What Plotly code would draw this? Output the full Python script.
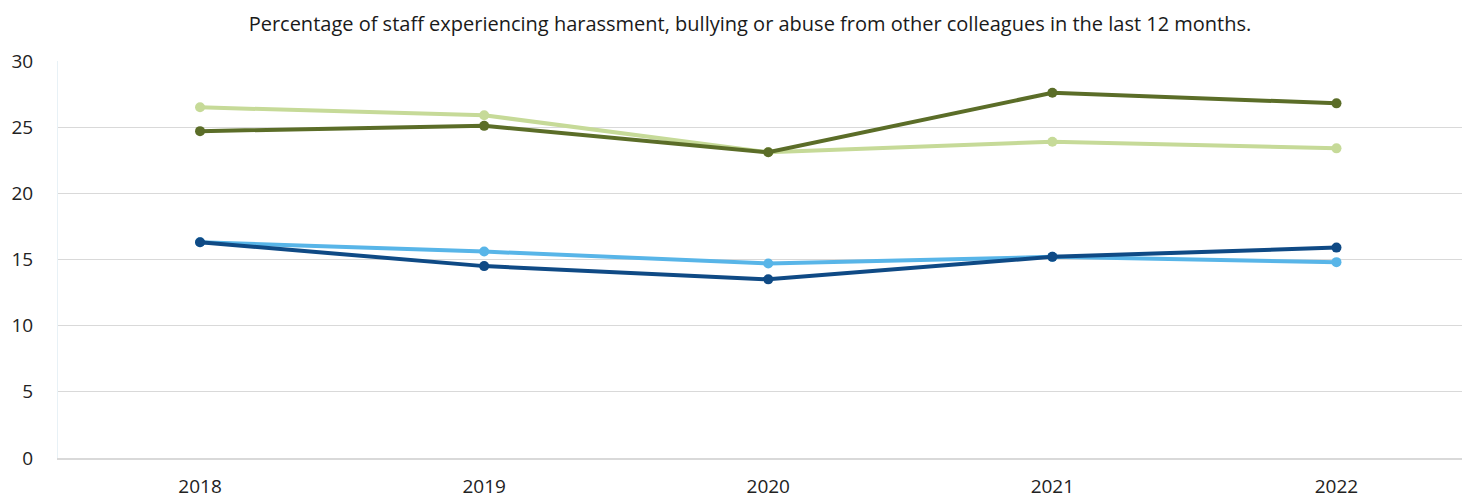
import plotly.graph_objects as go

years = ["2018", "2019", "2020", "2021", "2022"]
light_green = [26.5, 25.9, 23.1, 23.9, 23.4]
dark_green = [24.7, 25.1, 23.1, 27.6, 26.8]
light_blue = [16.3, 15.6, 14.7, 15.2, 14.8]
dark_blue = [16.3, 14.5, 13.5, 15.2, 15.9]
y_ticks = [0, 5, 10, 15, 20, 25, 30]

series = [
    ("Series 1", light_green, "#c6da98"),
    ("Series 2", dark_green, "#5b6d28"),
    ("Series 3", light_blue, "#58b5e8"),
    ("Series 4", dark_blue, "#0f4a85"),
]

fig = go.Figure()
for name, vals, col in series:
    fig.add_trace(go.Scatter(
        x=years, y=vals, mode="lines+markers", name=name,
        line=dict(color=col, width=4),
        marker=dict(color=col, size=10),
    ))

fig.update_layout(
    width=1462, height=491,
    margin=dict(l=50, r=0, t=53, b=32),
    paper_bgcolor="white", plot_bgcolor="white",
    showlegend=False,
    title=dict(
        text="Percentage of staff experiencing harassment, bullying or abuse from other colleagues in the last 12 months.",
        x=0.5075, xanchor="center", y=0.968, yanchor="middle",
        font=dict(family="Open Sans", size=20, color="#1a1a1a"),
    ),
    font=dict(family="Open Sans", size=19, color="#222222"),
)
fig.update_xaxes(
    type="category", range=[-0.5, 4.47],
    showgrid=False, showline=True, linecolor="#d9d9d9", linewidth=1.5,
    ticks="", tickfont=dict(size=19, color="#222222"), ticklabelstandoff=10,
)
fig.update_yaxes(
    range=[0, 30], tickvals=y_ticks,
    showgrid=True, gridcolor="#d9d9d9", gridwidth=1.2,
    zeroline=False, showline=True, linecolor="#e8f1f6", linewidth=1,
    ticks="", tickfont=dict(size=19, color="#222222"), ticklabelstandoff=20,
)

fig.write_html("out.html")
